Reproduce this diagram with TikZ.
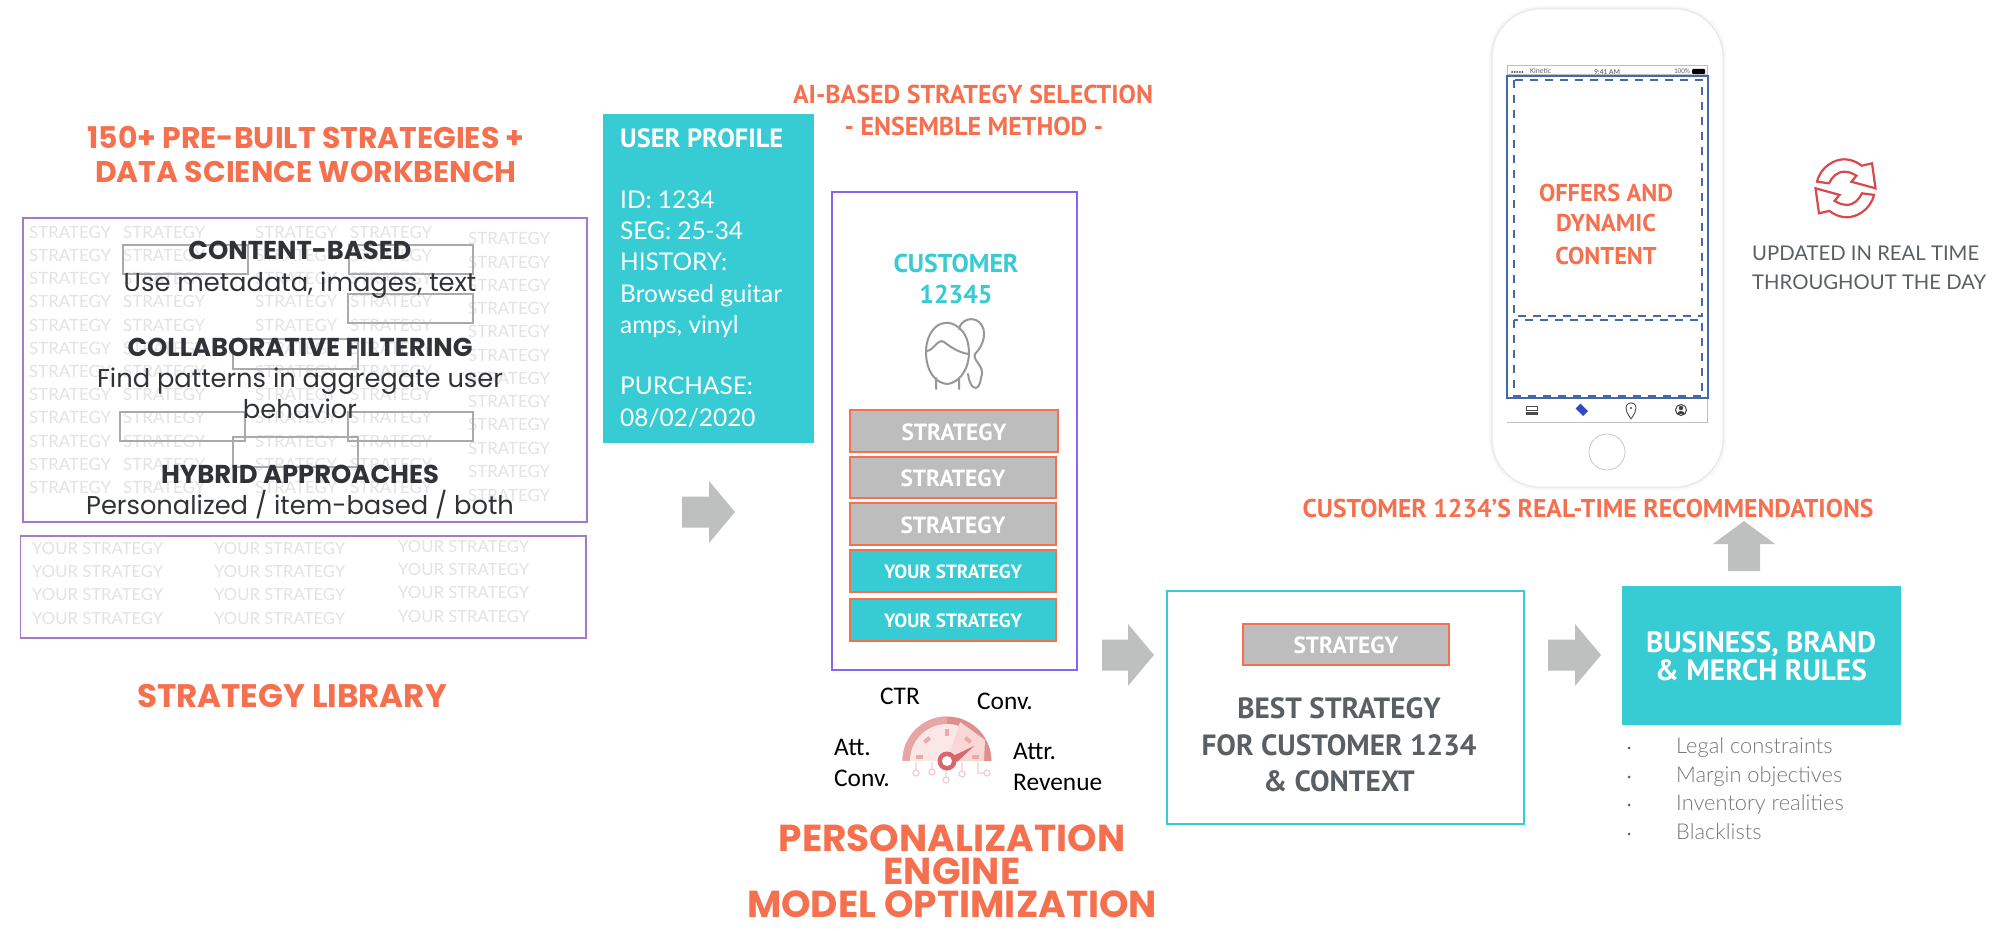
\documentclass[tikz,border=0pt]{standalone}
\usepackage{fontspec}
\setmainfont{Lato}
\newfontfamily\popb{Poppins Bold}
\newfontfamily\popr{Poppins}
\newfontfamily\srcr{Lato}
\newfontfamily\ptsans{PT Sans}
\newcommand\srcb{\ptsans\bfseries}
\newfontfamily\srcl{Lato Light}
\newfontfamily\carl{Carlito}
\definecolor{coral}{HTML}{F4704F}
\definecolor{teal}{HTML}{37CBD3}
\definecolor{boxgray}{HTML}{BDBDBD}
\definecolor{arrgray}{HTML}{BEC0BF}
\definecolor{libpurple}{HTML}{A678C5}
\definecolor{violet}{HTML}{8A63F0}
\definecolor{inkdark}{HTML}{2F3237}
\definecolor{navy}{HTML}{4468A8}
\definecolor{ghost}{HTML}{E3E3E3}
\definecolor{slategray}{HTML}{5A5F63}
\definecolor{listgray}{HTML}{74787C}
\definecolor{iconred}{HTML}{D9484C}
\definecolor{gband}{RGB}{224,143,143}
\definecolor{gbandl}{RGB}{232,165,165}
\definecolor{gface}{RGB}{251,232,230}
\definecolor{gwedge}{RGB}{248,215,212}
\definecolor{gtick}{RGB}{236,170,170}
\definecolor{gcirc}{RGB}{246,205,205}
\definecolor{ghub}{RGB}{217,102,110}
\newsavebox\fitbox
\newcommand\fit[3]{\pgfinterruptpicture\sbox\fitbox{#1\fontsize{10}{12}\selectfont #3}\edef\fitw{\the\wd\fitbox}\pgfmathsetmacro\sz{10*#2/\fitw}\xdef\sz{\sz}\endpgfinterruptpicture}
% \lab[anchor]{name}{x}{y-centre of capitals}{style}{text}
\newcommand\lab[6][base]{\node[inner sep=0pt,anchor=#1,#5] (#2) at (#3,{#4+0.35*\sz}) {\fontsize{\sz}{\sz}\selectfont #6};}
\newcommand\blockright[3]{\fill[arrgray] (#1,#3-15.5) -- (#2-26,#3-15.5) -- (#2-26,#3-31) -- (#2,#3) -- (#2-26,#3+31) -- (#2-26,#3+15.5) -- (#1,#3+15.5) -- cycle;}
\tikzset{
  x=1pt,y=-1pt,
  head/.style={font=\popb,text=coral},
  headsrc/.style={font=\srcb,text=coral},
  ghosttxt/.style={font=\srcr,text=ghost},
  overb/.style={font=\popb,text=inkdark},
  overl/.style={font=\popr,text=inkdark},
  ghostbox/.style={draw=boxgray!90!black,line width=1.4pt},
  libbox/.style={draw=libpurple,line width=1.6pt},
  stratbox/.style={draw=coral,line width=2pt,fill=boxgray},
  yourbox/.style={draw=coral,line width=2pt,fill=teal},
  whiteb/.style={font=\srcb,text=white},
  whiter/.style={font=\srcr,text=white},
  dashbox/.style={draw=navy,line width=2pt,dash pattern=on 8pt off 7pt},
  metric/.style={font=\carl,text=black},
  faceline/.style={draw=boxgray!80!black,line width=2pt,line join=round,line cap=round},
}
\begin{document}
\begin{tikzpicture}
\useasboundingbox (0,0) rectangle (2000,931);
\fill[white] (0,0) rectangle (2000,931);

% ---------- left column
\fit{\popb}{437}{150+ PRE-BUILT STRATEGIES +}
\lab{h1a}{306}{138}{head}{150+ PRE-BUILT STRATEGIES +}
\lab{h1b}{306}{172}{head}{DATA SCIENCE WORKBENCH}

\draw[libbox] (23,218) rectangle (587,522);
\draw[libbox] (20.5,536) rectangle (586,638);

\fit{\srcr}{82}{STRATEGY}
\foreach \x in {29,123,255,350}
  \foreach \y [count=\n] in {233,256,279,302,326,349,372,395,418,442,465,488}
    {\lab[base west]{g\x-\n}{\x}{\y}{ghosttxt}{STRATEGY}}
\foreach \y [count=\n] in {239,263,286,309,332,356,379,402,425,449,472,496}
  {\lab[base west]{g468-\n}{468}{\y}{ghosttxt}{STRATEGY}}

\fit{\srcr}{131}{YOUR STRATEGY}
\foreach \x in {32,214}
  \foreach \y [count=\n] in {549,572,595,619}
    {\lab[base west]{y\x-\n}{\x}{\y}{ghosttxt}{YOUR STRATEGY}}
\foreach \y [count=\n] in {547,570,593,617}
  {\lab[base west]{y398-\n}{398}{\y}{ghosttxt}{YOUR STRATEGY}}

\draw[ghostbox] (123,245) rectangle (248,274);
\draw[ghostbox] (349,245) rectangle (473,274);
\draw[ghostbox] (348,294) rectangle (473,323);
\draw[ghostbox] (233,339) rectangle (358,369);
\draw[ghostbox] (120,412) rectangle (245,441);
\draw[ghostbox] (348,412) rectangle (473,441);
\draw[ghostbox] (233,437) rectangle (358,467);

\fit{\popb}{345}{COLLABORATIVE FILTERING}
\lab{o1}{300}{250}{overb}{CONTENT-BASED}
\lab{o3}{300}{347}{overb}{COLLABORATIVE FILTERING}
\lab{o6}{300}{474}{overb}{HYBRID APPROACHES}
\fit{\popr}{406}{Find patterns in aggregate user}
\lab{o2}{300}{282}{overl}{Use metadata, images, text}
\lab{o4}{300}{378}{overl}{Find patterns in aggregate user}
\lab{o5}{300}{409}{overl}{behavior}
\lab{o7}{300}{505}{overl}{Personalized / item-based / both}

\fit{\popb}{310}{STRATEGY LIBRARY}
\lab{lib}{292}{696}{head}{STRATEGY LIBRARY}

% ---------- user profile
\fill[teal] (603,114.5) rectangle (814,442.5);
\fit{\srcb}{163}{USER PROFILE}
\lab[base west]{up}{620}{138}{whiteb}{USER PROFILE}
\fit{\srcr}{162}{Browsed guitar}
\lab[base west]{up1}{620}{200}{whiter}{ID: 1234}
\lab[base west]{up2}{620}{231}{whiter}{SEG: 25-34}
\lab[base west]{up3}{620}{262}{whiter}{HISTORY:}
\lab[base west]{up4}{620}{293.5}{whiter}{Browsed guitar}
\lab[base west]{up5}{620}{325}{whiter}{amps, vinyl}
\lab[base west]{up6}{620}{386}{whiter}{PURCHASE:}
\lab[base west]{up7}{620}{418}{whiter}{08/02/2020}

\blockright{682}{735}{512}

% ---------- ensemble
\fit{\srcb}{360}{AI-BASED STRATEGY SELECTION}
\lab{h2a}{973}{94}{headsrc}{AI-BASED STRATEGY SELECTION}
\lab{h2b}{974}{126}{headsrc}{- ENSEMBLE METHOD -}
\draw[draw=violet,line width=1.8pt] (832,192) rectangle (1077,670);
\fit{\srcb}{125}{CUSTOMER}
\lab{c1}{956}{263}{font=\srcb,text=teal}{CUSTOMER}
\lab{c2}{956}{294}{font=\srcb,text=teal}{12345}

% face
\draw[faceline]
  (958,327) .. controls (942,315) and (926,330) .. (926,352)
  .. controls (926,372) and (936,383) .. (947,384) .. controls (958,383) and (968,372) .. (969,354)
  .. controls (969,342) and (966,333) .. (958,327);
\draw[faceline]
  (927,351) .. controls (934,350) and (938,338) .. (944,342) .. controls (952,348) and (958,352) .. (968,354)
  (936,378) -- (936,389) (959,378) -- (959,389)
  (959,329) .. controls (961,320) and (972,316) .. (979,322) .. controls (988,330) and (984,345) .. (975,354)
  .. controls (972,361) and (986,366) .. (981,378) .. controls (980,386) and (977,390) .. (973,387) .. controls (970,384) and (969,380) .. (968,374);

\draw[stratbox] (850,410) rectangle (1057.5,452);
\draw[stratbox] (850,456.5) rectangle (1056,498);
\draw[stratbox] (850,503) rectangle (1056,545);
\draw[yourbox] (850,550) rectangle (1056,592);
\draw[yourbox] (850,599) rectangle (1056,641);
\fit{\srcb}{105}{STRATEGY}
\lab{s1}{954}{432}{whiteb}{STRATEGY}
\lab{s2}{953}{478}{whiteb}{STRATEGY}
\lab{s3}{953}{525}{whiteb}{STRATEGY}
\fit{\srcb}{138}{YOUR STRATEGY}
\lab{s4}{953}{572}{whiteb}{YOUR STRATEGY}
\lab{s5}{953}{621}{whiteb}{YOUR STRATEGY}

% ---------- gauge
\fit{\carl}{89}{Revenue}
\lab{m1}{900}{696}{metric}{CTR}
\lab{m2}{1005}{701}{metric}{Conv.}
\lab[base west]{m3}{834}{747}{metric}{Att.}
\lab[base west]{m4}{834}{778}{metric}{Conv.}
\lab[base west]{m5}{1013}{751}{metric}{Attr.}
\lab[base west]{m6}{1013}{782}{metric}{Revenue}

\begin{scope}
  \clip (890,700) rectangle (1004,760.5);
  \fill[gband] (947,761) circle[radius=44.5pt];
  \begin{scope}
    \clip (890,700) rectangle (947,761);
    \fill[gbandl] (947,761) circle[radius=44.5pt];
  \end{scope}
  \fill[gface] (947,761) circle[radius=37pt];
  \fill[gwedge] (947,761) -- (960,722) -- (985,740) -- (984,761) -- cycle;
\end{scope}
\foreach \x/\y/\a in {919/756.5/0,927/740/40,947/732/90,968/740/-40,975/756.5/0}
  {\fill[gtick,rotate around={\a:(\x,\y)}] (\x-3.5,\y-2) rectangle (\x+3.5,\y+2);}
\draw[gcirc,line width=1.3pt]
  (916,773) circle[radius=3pt] (932,772) circle[radius=3pt] (946,780) circle[radius=3pt] (962,774) circle[radius=3pt] (987,773) circle[radius=3pt]
  (916,770) -- (916,762) (932,769) -- (932,762) (946,777) -- (946,768) (962,771) -- (962,762) (978,762) -- (978,773) -- (984,773);
\fill[ghub] (953,756) -- (974,746) -- (957,762) -- cycle;
\fill[ghub] (947,761) circle[radius=9.5pt];
\fill[white] (947,761) circle[radius=5pt];

\fit{\popb}{410}{MODEL OPTIMIZATION}
\lab{p1}{952}{838}{head}{PERSONALIZATION}
\lab{p2}{952}{871}{head}{ENGINE}
\lab{p3}{952}{904}{head}{MODEL OPTIMIZATION}

\blockright{1102}{1154}{655}

% ---------- best strategy
\draw[teal,line width=1.5pt] (1167,591) rectangle (1524,824);
\draw[stratbox] (1243,624) rectangle (1449,665);
\fit{\srcb}{105}{STRATEGY}
\lab{s6}{1346}{645}{whiteb}{STRATEGY}
\fit{\srcb}{275}{FOR CUSTOMER 1234}
\lab{b1}{1339}{708}{font=\srcb,text=slategray}{BEST STRATEGY}
\lab{b2}{1339}{745}{font=\srcb,text=slategray}{FOR CUSTOMER 1234}
\lab{b3}{1339}{781}{font=\srcb,text=slategray}{\& CONTEXT}

\blockright{1548}{1601}{655}

% ---------- rules
\fill[teal] (1622,586) rectangle (1900.5,725);
\fit{\srcb}{230}{BUSINESS, BRAND}
\lab{r1}{1761}{642}{whiteb}{BUSINESS, BRAND}
\lab{r2}{1761}{670}{whiteb}{\& MERCH RULES}
\fit{\srcl}{166}{Margin objectives}
\foreach \y/\t [count=\n] in {746/Legal constraints,775/Margin objectives,803/Inventory realities,832/Blacklists}{
  \fill[slategray] (1629,\y+2) circle[radius=1.5pt];
  \lab[base west]{li\n}{1676}{\y}{font=\srcl,text=listgray}{\t}
}

\fill[arrgray] (1744,521) -- (1775,544) -- (1760,544) -- (1760,571) -- (1728,571) -- (1728,544) -- (1713,544) -- cycle;
\fit{\srcb}{571}{CUSTOMER 1234’S REAL-TIME RECOMMENDATIONS}
\lab{h3}{1588}{508}{headsrc}{CUSTOMER 1234’S REAL-TIME RECOMMENDATIONS}

% ---------- phone
\foreach \o/\c in {3/FAFAFA,2/F6F6F6,1/F0F0F0}{
  \definecolor{shad}{HTML}{\c}
  \fill[shad,rounded corners=50pt] (1492-\o,9-\o) rectangle (1723+\o,487+\o);
}
\draw[draw=black!9,fill=white,line width=1pt,rounded corners=48pt] (1492,9) rectangle (1723,487);
\draw[black!25,line width=1pt] (1507,76) -- (1507,66) -- (1707,66) -- (1707,422) -- (1507,422);
\draw[black!25,line width=1pt] (1507,75) -- (1707,75);
\fit{\carl}{21}{Kinetic}
\foreach \i in {0,...,4} {\fill[black!75] (1512+\i*2.6,72) circle[radius=1pt];}
\lab[base west]{st1}{1530}{71}{font=\carl,text=black!60}{Kinetic}
\fit{\carl}{26}{9:41 AM}
\lab{st2}{1607}{71.5}{font=\carl,text=black!70}{9:41 AM}
\fit{\carl}{16}{100\%}
\lab{st3}{1682}{71}{font=\carl,text=black!60}{100\%}
\fill[black,rounded corners=1pt] (1692,69) rectangle (1705,74);
\draw[navy,line width=2pt] (1507,76) rectangle (1708,398);
\draw[dashbox] (1513.5,80) rectangle (1702,316);
\draw[dashbox] (1513.5,320) rectangle (1702,396);
\fit{\srcb}{134}{OFFERS AND}
\lab{f1}{1606}{193}{headsrc}{OFFERS AND}
\lab{f2}{1606}{223}{headsrc}{DYNAMIC}
\lab{f3}{1606}{256}{headsrc}{CONTENT}
% tab bar icons
\draw[black!70,line width=1pt] (1526.5,411) -- (1526.5,406) -- (1537.5,406) -- (1537.5,411);
\fill[black!70] (1526,409.5) rectangle (1538,414.5);
\fill[white] (1526,411) rectangle (1538,412);
\fill[navy!70!blue,rotate around={45:(1582,410)}] (1578.5,404.5) -- (1585.5,404.5) -- (1585.5,415) -- (1578.5,415) -- cycle;
\draw[black!70,line width=.9pt] (1631,419) .. controls (1627,413) and (1626,411) .. (1626,408) .. controls (1626,401) and (1636,401) .. (1636,408) .. controls (1636,411) and (1635,413) .. (1631,419);
\fill[black!70] (1631,408) circle[radius=1.2pt];
\draw[black!75,line width=1pt] (1681,410) circle[radius=5.5pt];
\fill[black!75] (1681,408) circle[radius=2.2pt];
\fill[black!75] (1677,414) .. controls (1678,410) and (1684,410) .. (1685,414) -- cycle;
\draw[black!22,line width=.8pt] (1607,452) circle[radius=18pt];

% ---------- refresh icon
\foreach \a in {0,180}{
  \draw[iconred,line width=2.2pt,line join=miter,rotate around={\a:(1845.5,188.3)}]
    (1817,181.7) .. controls (1821,166) and (1835,159) .. (1845,159.3) .. controls (1851,159.5) and (1857,162) .. (1861.7,165.7)
    -- (1872,163.3) -- (1875.5,188.3) -- (1851.4,181.7) -- (1856.5,175.7)
    .. controls (1851,172.5) and (1848,171.7) .. (1844.5,171.7) .. controls (1837,171.7) and (1832,177) .. (1829,183.3) -- cycle;
}
\fit{\srcr}{234}{THROUGHOUT THE DAY}
\lab[base west]{u1}{1752}{253}{font=\srcr,text=slategray}{UPDATED IN REAL TIME}
\lab[base west]{u2}{1752}{282}{font=\srcr,text=slategray}{THROUGHOUT THE DAY}
\end{tikzpicture}
\end{document}
